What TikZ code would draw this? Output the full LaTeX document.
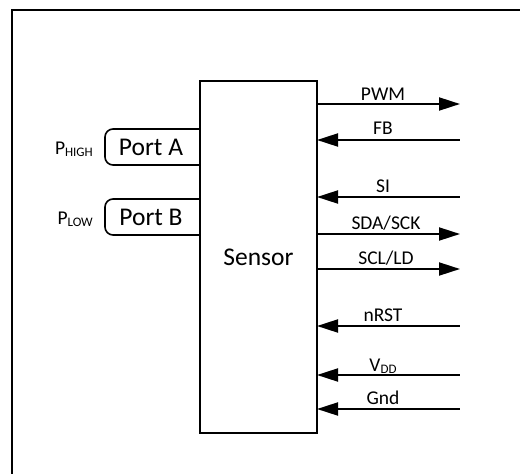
\documentclass[tikz,border=0pt]{standalone}
\usepackage{fontspec}
\setmainfont{Carlito}
\usetikzlibrary{arrows.meta}
\newcommand{\lblfont}{\fontsize{19.5}{21}\selectfont}
\newcommand{\bigfont}{\fontsize{25.5}{28}\selectfont}
\newcommand{\subfnt}[1]{\raisebox{-2.5pt}{\fontsize{13}{14}\selectfont #1}}
\tikzset{
  frameline/.style={line width=1.6pt},
  boxline/.style={line width=1.6pt},
  outarrow/.style={line width=2pt,-{Triangle[length=21pt,width=13pt]}},
  inarrow/.style={line width=2pt,{Triangle[length=21pt,width=13pt]}-},
  sig/.style={anchor=base,inner sep=0pt,font=\lblfont},
  portbox/.style={boxline,rounded corners=8pt},
}
\begin{document}
\begin{tikzpicture}[x=1pt,y=-1pt]
\useasboundingbox (0,0) rectangle (520,474);
\draw[frameline] (12,474) -- (12,10) -- (520,10);
\node[draw,boxline,minimum width=117pt,minimum height=352pt,inner sep=0pt,outer sep=0pt,font=\bigfont] (sensor) at (258.5,257) {Sensor};
% ports
\coordinate (pa1) at (200,129);
\coordinate (pa2) at (200,165);
\coordinate (pb1) at (200,199);
\coordinate (pb2) at (200,235);
\draw[portbox] (pa1) -- (105,129) -- (105,165) -- (pa2);
\draw[portbox] (pb1) -- (105,199) -- (105,235) -- (pb2);
\node[font=\bigfont,inner sep=0pt] (porta) at (151,147) {Port A};
\node[font=\bigfont,inner sep=0pt] (portb) at (151,217) {Port B};
\node[anchor=base east,inner sep=0pt,font=\lblfont] (phigh) at (93,154) {P\subfnt{HIGH}};
\node[anchor=base east,inner sep=0pt,font=\lblfont] (plow) at (93,224) {P\subfnt{LOW}};
% signals
\coordinate (pwm) at (460,104);
\coordinate (fb) at (460,140);
\coordinate (si) at (460,197);
\coordinate (sda) at (460,234);
\coordinate (scl) at (460,269);
\coordinate (nrst) at (460,326);
\coordinate (vdd) at (460,375);
\coordinate (gnd) at (460,409);
\draw[outarrow] (sensor.east |- pwm) -- (pwm);
\draw[inarrow] (sensor.east |- fb) -- (fb);
\draw[inarrow] (sensor.east |- si) -- (si);
\draw[outarrow] (sensor.east |- sda) -- (sda);
\draw[outarrow] (sensor.east |- scl) -- (scl);
\draw[inarrow] (sensor.east |- nrst) -- (nrst);
\draw[inarrow] (sensor.east |- vdd) -- (vdd);
\draw[inarrow] (sensor.east |- gnd) -- (gnd);
\node[sig] (lpwm) at (383,100) {PWM};
\node[sig] (lfb) at (383,134) {FB};
\node[sig] (lsi) at (383,192) {SI};
\node[sig] (lsda) at (386,229) {SDA/SCK};
\node[sig] (lscl) at (386,264) {SCL/LD};
\node[sig] (lnrst) at (383,321) {nRST};
\node[sig] (lvdd) at (383,371) {V\subfnt{DD}};
\node[sig] (lgnd) at (383,404) {Gnd};
\end{tikzpicture}
\end{document}
